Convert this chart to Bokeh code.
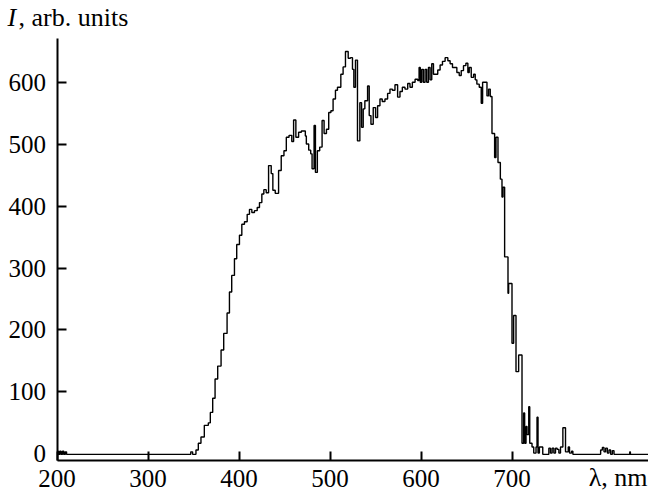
from bokeh.plotting import figure
from bokeh.models import Label, FixedTicker, Range1d
from bokeh.embed import file_html
from bokeh.resources import INLINE

# wavelength (nm, start of each step) and intensity (arb. units)
wavelength = [200, 201.5, 203, 204.5, 206, 207.5, 209, 210.5, 347, 349,
              352.7, 355.3, 358.2, 361.9, 366.3, 368.5, 371.1, 373.7, 376.6, 380.3,
              383.2, 386.9, 389.5, 392.0, 395.0, 397.5, 400.5, 403.1, 406.0, 409.0,
              411.5, 414.1, 417.0, 420.0, 422.5, 425.1, 427.3, 429.9, 432.5, 435.4,
              437.2, 439.8, 443.5, 446.4, 449.4, 452.0, 455.0, 458.0, 460.0, 462.5,
              465.5, 468.5, 472.9, 474.0, 476.6, 478.8, 480.3, 482.5, 484.0, 486.1,
              488.7, 491.3, 493.5, 496.1, 498.6, 501.0, 503.4, 506.0, 508.2, 511.9,
              514.4, 517.0, 520.0, 522.5, 524.7, 526.2, 528.0, 530.2, 532.8, 534.7,
              536.5, 538.3, 541.3, 543.1, 545.0, 547.5, 550.1, 552.3, 554.9, 557.4,
              560.4, 563.3, 565.9, 568.5, 571.4, 574.3, 576.9, 579.5, 582.4, 585.4,
              587.9, 590.5, 593.5, 596.4, 597.9, 599.2, 600.8, 602.6, 604.5, 606.3,
              608.2, 610.0, 611.8, 613.7, 616.0, 618.4, 621.0, 623.6, 626.5, 629.5,
              632.0, 634.6, 637.0, 639.4, 642.0, 644.2, 646.7, 649.3, 651.5, 653.0,
              655.2, 657.8, 659.6, 661.4, 664.0, 666.2, 667.7, 670.6, 672.5, 674.3,
              676.1, 678.0, 680.9, 682.4, 684.6, 687.2, 689.0, 690.1, 691.9, 695.6,
              696.3, 700.0, 701.8, 704.4, 707.3, 711.0, 712.8, 713.9, 715.4, 716.5,
              718.4, 719.5, 722.0, 723.9, 726.4, 727.5, 728.6, 730.1, 732.3, 733.8,
              740.5, 742.3, 744.1, 746.0, 747.8, 749.6, 751.5, 753.3, 755.9, 758.8,
              761.8, 763.2, 765.4, 766.9, 797.4, 799.3, 801.1, 802.9, 804.8, 806.6,
              808.4, 810.3, 812.1, 829.4, 830.1, 850]
intensity = [3, -2, 3, -2, 3, -2, 2, -2, 2, -2,
             5, 16, 26, 45, 49, 66, 89, 120, 141, 167,
             194, 227, 261, 288, 315, 338, 353, 371, 375, 387,
             395, 390, 393, 398, 406, 420, 427, 422, 466, 453,
             426, 421, 458, 482, 490, 512, 515, 505, 540, 512,
             520, 522, 514, 501, 491, 485, 461, 531, 455, 490,
             496, 539, 518, 525, 552, 555, 574, 588, 593, 614,
             626, 651, 640, 641, 622, 593, 637, 506, 568, 528,
             558, 571, 595, 547, 533, 560, 544, 563, 574, 570,
             574, 583, 590, 588, 597, 577, 586, 593, 590, 599,
             593, 601, 606, 604, 625, 601, 622, 601, 622, 601,
             625, 605, 631, 614, 614, 621, 629, 635, 641, 636,
             631, 625, 625, 617, 612, 620, 628, 632, 617, 625,
             609, 614, 605, 598, 593, 567, 601, 601, 579, 590,
             578, 518, 479, 512, 471, 444, 415, 431, 318, 259,
             275, 178, 223, 132, 159, 16, 65, 16, 43, 30,
             75, 16, 10, 0, 10, 58, 0, 10, 10, -2,
             8, 0, 8, 0, 8, 6, 0, 10, 41, 2,
             10, 0, 3, -2, 5, 9, 2, 8, 0, 5,
             -2, 4, -2, 2, -2, -2]

x_ticks = [200, 300, 400, 500, 600, 700]
y_ticks = [0, 100, 200, 300, 400, 500, 600]

FONT = "Liberation Serif"
W, H = 648, 495
# axis box in pixels (left, top, right, bottom) and data limits
AX_L, AX_T, AX_R, AX_B = 56.5, 38.0, 648.0, 460.0
X0, X1 = 200.0, 850.0
Y0, Y1 = -12.0, 672.0
sx = (AX_R - AX_L) / (X1 - X0)
sy = (AX_B - AX_T) / (Y1 - Y0)
x_range = Range1d(X0 - AX_L / sx, X1 + (W - AX_R) / sx)
y_range = Range1d(Y0 - (H - AX_B) / sy, Y1 + AX_T / sy)

p = figure(width=W, height=H, output_backend="svg", toolbar_location=None,
           x_range=x_range, y_range=y_range,
           min_border=0, min_border_left=0, min_border_right=0,
           min_border_top=0, min_border_bottom=0)
p.title = None
p.outline_line_color = None
p.xgrid.grid_line_color = None
p.ygrid.grid_line_color = None

p.step(wavelength, intensity, mode="after", line_color="black", line_width=1.4)

for ax in (p.xaxis[0], p.yaxis[0]):
    ax.axis_line_width = 2
    ax.axis_line_color = "black"
    ax.major_tick_line_width = 2
    ax.major_tick_line_color = "black"
    ax.major_tick_in = 9
    ax.major_tick_out = 0
    ax.minor_tick_line_color = None
    ax.major_label_text_font = FONT
    ax.major_label_text_font_size = "25px"
    ax.major_label_text_color = "black"

p.xaxis[0].ticker = FixedTicker(ticks=x_ticks)
p.yaxis[0].ticker = FixedTicker(ticks=y_ticks)
p.xaxis[0].fixed_location = Y0
p.yaxis[0].fixed_location = X0
p.xaxis[0].bounds = (X0, X1 + (W - AX_R) / sx)
p.yaxis[0].bounds = (Y0, Y1)
p.xaxis[0].major_label_standoff = 9
p.yaxis[0].major_label_standoff = 11

p.add_layout(Label(x=7, y=H - 17, x_units="screen", y_units="screen", text="I",
                   text_font=FONT, text_font_size="26px", text_font_style="italic",
                   text_color="black", text_baseline="alphabetic"))
p.add_layout(Label(x=18, y=H - 17, x_units="screen", y_units="screen", text=", arb. units",
                   text_font=FONT, text_font_size="26px",
                   text_color="black", text_baseline="alphabetic"))
p.add_layout(Label(x=647, y=H - 477, x_units="screen", y_units="screen", text="λ, nm",
                   text_font=FONT, text_font_size="26px", text_align="right",
                   text_color="black", text_baseline="alphabetic"))

open("out.html", "w").write(file_html(p, INLINE))
